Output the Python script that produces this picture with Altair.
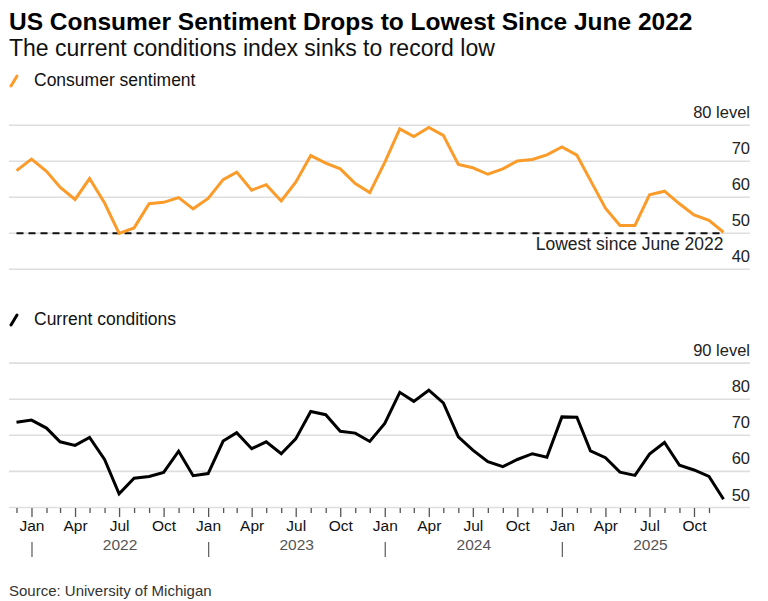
import altair as alt
import pandas as pd

# ---------------- data ----------------
periods = pd.period_range("2021-11", "2025-11", freq="M")
dates = [p.end_time.strftime("%Y-%m-%d") for p in periods]

sentiment = [67.4, 70.6, 67.2, 62.8, 59.4, 65.2, 58.4, 50.0, 51.5, 58.2, 58.6, 59.9,
             56.8, 59.7, 64.9, 67.0, 62.0, 63.5, 59.0, 64.2, 71.6, 69.5, 67.9, 63.8,
             61.3, 69.7, 79.0, 76.9, 79.4, 77.2, 69.1, 68.2, 66.4, 67.9, 70.1, 70.5,
             71.8, 74.0, 71.7, 64.7, 57.0, 52.2, 52.2, 60.7, 61.7, 58.2, 55.1, 53.6,
             50.3]
current = [73.6, 74.2, 72.0, 68.2, 67.2, 69.4, 63.3, 53.8, 58.1, 58.6, 59.7, 65.6,
           58.8, 59.4, 68.4, 70.7, 66.3, 68.2, 64.9, 69.0, 76.6, 75.7, 71.1, 70.6,
           68.3, 73.3, 81.9, 79.4, 82.5, 79.0, 69.6, 65.9, 62.7, 61.3, 63.3, 64.9,
           63.9, 75.1, 75.0, 65.7, 63.8, 59.8, 58.9, 64.8, 68.0, 61.7, 60.4, 58.6,
           52.3]

top_ticks = [40, 50, 60, 70, 80]
top_tick_labels = ["40", "50", "60", "70", "80 level"]
bot_ticks = [50, 60, 70, 80, 90]
bot_tick_labels = ["50", "60", "70", "80", "90 level"]

tick_months = [p.start_time.strftime("%Y-%m-%d") for p in pd.period_range("2021-12", "2025-11", freq="M")]
month_names = {1: "Jan", 4: "Apr", 7: "Jul", 10: "Oct"}
years = [2022, 2023, 2024, 2025]

title = "US Consumer Sentiment Drops to Lowest Since June 2022"
subtitle = "The current conditions index sinks to record low"
legend1 = "Consumer sentiment"
legend2 = "Current conditions"
note = "Lowest since June 2022"
source = "Source: University of Michigan"

ORANGE = "#fb9b2a"
FONT = "Liberation Sans"
W = 741
H = 500

# ---------------- frames ----------------
df = pd.DataFrame({"date": dates, "sentiment": sentiment, "current": current})
top_grid = pd.DataFrame({"v": top_ticks, "lab": top_tick_labels})
bot_grid = pd.DataFrame({"v": bot_ticks, "lab": bot_tick_labels})
ticks = pd.DataFrame({"date": tick_months})
ticks["m"] = pd.to_datetime(ticks["date"]).dt.month
ticks["long"] = ticks["m"].isin([1, 4, 7, 10])
ticks["lab"] = ticks["m"].map(month_names).fillna("")
yr = pd.DataFrame({"year": [str(y) for y in years],
                   "jan": [f"{y}-01-01" for y in years],
                   "mid": [f"{y}-07-02" for y in years]})
low = pd.DataFrame({"d1": [dates[0]], "d2": [dates[-1]], "v": [50], "t": [note]})

xscale = alt.Scale(type="utc", domain=[
    alt.DateTime(year=2021, month=11, date=14, hours=12, utc=True),
    alt.DateTime(year=2026, month=1, date=23, hours=17, utc=True)])
ytop = alt.Scale(domain=[40, 80], range=[261.3, 117.3], nice=False, zero=False)
ybot = alt.Scale(domain=[50, 90], range=[499.5, 355.1], nice=False, zero=False)

X = lambda f: alt.X(f, type="temporal", scale=xscale, axis=None)

# top panel
g1 = alt.Chart(top_grid).mark_rule(color="#dedede", strokeWidth=1.6).encode(
    y=alt.Y("v:Q", scale=ytop, axis=None))
l1 = alt.Chart(top_grid).mark_text(align="right", baseline="middle", dy=-12, fontSize=16.5,
                                   font=FONT, color="#222").encode(
    y=alt.Y("v:Q", scale=ytop, axis=None), x=alt.value(W), text="lab:N")
dash = alt.Chart(low).mark_rule(color="#111", strokeWidth=2, strokeDash=[7, 5]).encode(
    x=X("d1"), x2="d2", y=alt.Y("v:Q", scale=ytop, axis=None))
dash_t = alt.Chart(low).mark_text(align="right", baseline="middle", dy=12, fontSize=17.5,
                                  font=FONT, color="#222").encode(
    x=X("d2"), y=alt.Y("v:Q", scale=ytop, axis=None), text="t:N")
line1 = alt.Chart(df).mark_line(color=ORANGE, strokeWidth=3, strokeJoin="miter").encode(
    x=X("date"), y=alt.Y("sentiment:Q", scale=ytop, axis=None))

# bottom panel
g2 = alt.Chart(bot_grid).mark_rule(color="#dedede", strokeWidth=1.6).encode(
    y=alt.Y("v:Q", scale=ybot, axis=None))
l2 = alt.Chart(bot_grid).mark_text(align="right", baseline="middle", dy=-12, fontSize=16.5,
                                   font=FONT, color="#222").encode(
    y=alt.Y("v:Q", scale=ybot, axis=None), x=alt.value(W), text="lab:N")
line2 = alt.Chart(df).mark_line(color="#000", strokeWidth=3, strokeJoin="miter").encode(
    x=X("date"), y=alt.Y("current:Q", scale=ybot, axis=None))

# x axis pieces
short_t = alt.Chart(ticks).transform_filter("!datum.long").mark_rule(
    color="#555", strokeWidth=1.3).encode(x=X("date"), y=alt.value(H), y2=alt.value(H + 5))
long_t = alt.Chart(ticks).transform_filter("datum.long").mark_rule(
    color="#555", strokeWidth=1.3).encode(x=X("date"), y=alt.value(H), y2=alt.value(H + 9))
mlab = alt.Chart(ticks).transform_filter("datum.long").mark_text(
    baseline="middle", fontSize=15.5, font=FONT, color="#111").encode(
    x=X("date"), y=alt.value(H + 18), text="lab:N")
ysep = alt.Chart(yr).mark_rule(color="#666", strokeWidth=1.3).encode(
    x=X("jan"), y=alt.value(H + 34), y2=alt.value(H + 49))
ylab = alt.Chart(yr).mark_text(baseline="middle", fontSize=15.5, font=FONT, color="#555").encode(
    x=X("mid"), y=alt.value(H + 37), text="year:N")


def txt(s, x, y, size, weight="normal", color="#111"):
    return alt.Chart(pd.DataFrame({"t": [s]})).mark_text(
        align="left", baseline="middle", fontSize=size, fontWeight=weight,
        font=FONT, color=color).encode(x=alt.value(x), y=alt.value(y), text="t:N")


def slash(color, y):
    return alt.Chart(pd.DataFrame({"t": [0]})).mark_rule(
        color=color, strokeWidth=3, strokeCap="round").encode(
        x=alt.value(2), x2=alt.value(8), y=alt.value(y + 5), y2=alt.value(y - 5))


texts = [
    txt(title, 0, 15, 24.5, "bold", "#000"),
    txt(subtitle, 0, 41, 23, "normal", "#111"),
    txt(legend1, 25, 73, 17.5),
    slash(ORANGE, 73),
    txt(legend2, 25, 312, 17.5),
    slash("#000", 312),
    txt(source, 0, 583, 15, "normal", "#333"),
]

chart = alt.layer(
    g1, l1, g2, l2, dash, line1, dash_t, line2,
    short_t, long_t, mlab, ysep, ylab, *texts
).resolve_scale(y="independent").properties(
    width=W, height=H, padding=0
).configure_view(stroke=None)

chart.save("out.html", embed_options={"renderer": "svg", "actions": False})
